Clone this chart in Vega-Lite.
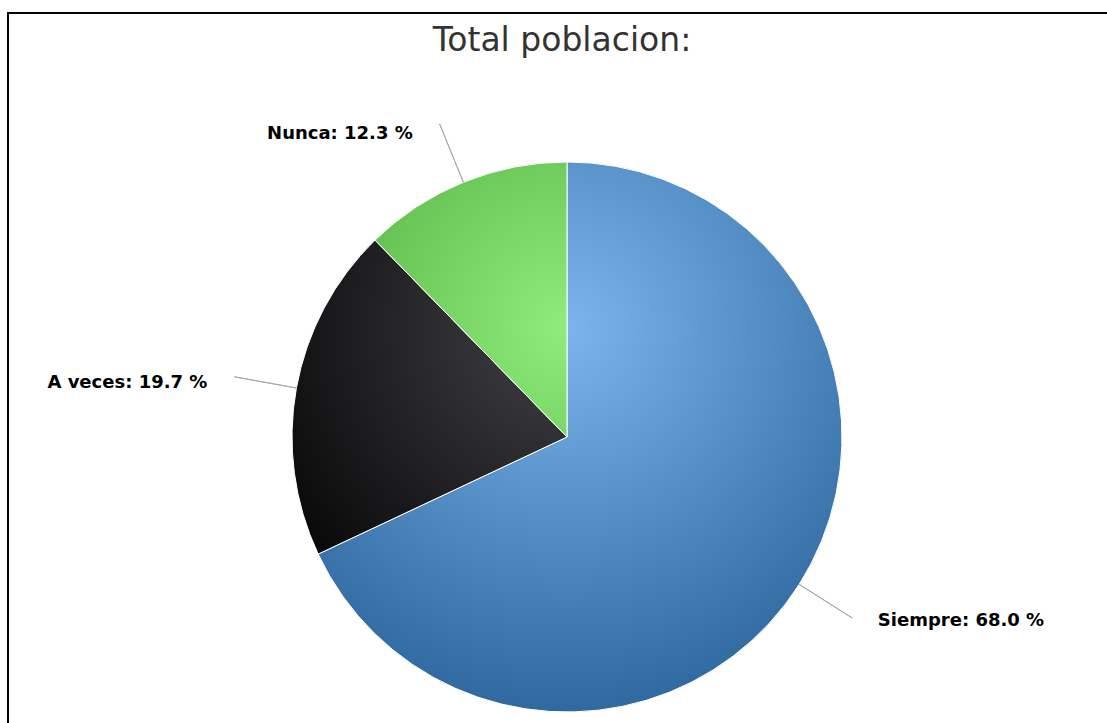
{
  "$schema": "https://vega.github.io/schema/vega-lite/v6.json",
  "width": 1118,
  "height": 848,
  "autosize": {"type": "none"},
  "padding": {"left": 8, "top": 13, "right": -19, "bottom": -138},
  "background": "white",
  "view": {"stroke": "black", "strokeWidth": 2, "fill": "white"},
  "config": {"view": {"stroke": "black", "strokeWidth": 2}},
  "title": {
    "text": "Total poblacion:",
    "font": "DejaVu Sans",
    "fontSize": 33,
    "fontWeight": "normal",
    "color": "#333333",
    "anchor": "middle",
    "frame": "group",
    "offset": -71,
    "baseline": "alphabetic",
    "dx": -5
  },
  "data": {
    "values": [
      {"respuesta": "Siempre", "porcentaje": 68.0},
      {"respuesta": "A veces", "porcentaje": 19.7},
      {"respuesta": "Nunca", "porcentaje": 12.3}
    ]
  },
  "transform": [
    {"stack": "porcentaje", "groupby": [], "sort": [{"field": "porcentaje", "order": "descending"}], "as": ["s0", "s1"]}
  ],
  "layer": [
    {
      "transform": [{"filter": "datum.respuesta === 'Siempre'"}],
      "mark": {
        "type": "arc", "outerRadius": 275, "stroke": "white", "strokeWidth": 1,
        "color": {"gradient": "radial", "x1": 0.476, "y1": 0.3, "r1": 0, "x2": 0.476, "y2": 0.3, "r2": 0.7,
          "stops": [{"offset": 0, "color": "#7cb5ec"}, {"offset": 1, "color": "#3069a0"}]}
      },
      "encoding": {
        "theta": {"field": "s0", "type": "quantitative", "scale": {"domain": [0, 100]}},
        "theta2": {"field": "s1"}
      }
    },
    {
      "transform": [{"filter": "datum.respuesta === 'A veces'"}],
      "mark": {
        "type": "arc", "outerRadius": 275, "stroke": "white", "strokeWidth": 1,
        "color": {"gradient": "radial", "x1": 0.938, "y1": 0.277, "r1": 0, "x2": 0.938, "y2": 0.277, "r2": 1.226,
          "stops": [{"offset": 0, "color": "#434348"}, {"offset": 1, "color": "#000000"}]}
      },
      "encoding": {
        "theta": {"field": "s0", "type": "quantitative", "scale": {"domain": [0, 100]}},
        "theta2": {"field": "s1"}
      }
    },
    {
      "transform": [{"filter": "datum.respuesta === 'Nunca'"}],
      "mark": {
        "type": "arc", "outerRadius": 275, "stroke": "white", "strokeWidth": 1,
        "color": {"gradient": "radial", "x1": 0.849, "y1": 0.6, "r1": 0, "x2": 0.849, "y2": 0.6, "r2": 1.4,
          "stops": [{"offset": 0, "color": "#90ed7d"}, {"offset": 1, "color": "#44a131"}]}
      },
      "encoding": {
        "theta": {"field": "s0", "type": "quantitative", "scale": {"domain": [0, 100]}},
        "theta2": {"field": "s1"}
      }
    },
    {
      "transform": [
        {"fold": ["s0", "s1"], "as": ["extremo", "angulo"]},
        {"aggregate": [{"op": "mean", "field": "angulo", "as": "medio"}], "groupby": ["respuesta", "porcentaje"]}
      ],
      "layer": [
        {
          "mark": {"type": "arc", "innerRadius": 275, "outerRadius": 338, "filled": false, "stroke": "#a8a8a8", "strokeWidth": 1},
          "encoding": {
            "theta": {"field": "medio", "type": "quantitative", "scale": {"domain": [0, 100]}},
            "theta2": {"field": "medio"}
          }
        },
        {
          "transform": [{"filter": "datum.respuesta === 'Siempre'"}],
          "mark": {"type": "text", "radius": 335, "align": "left", "baseline": "middle", "dx": 28, "dy": 4,
            "font": "DejaVu Sans", "fontSize": 18, "fontWeight": "bold", "color": "#000000",
            "text": {"expr": "datum.respuesta + ': ' + format(datum.porcentaje, '.1f') + ' %'"}},
          "encoding": {"theta": {"field": "medio", "type": "quantitative", "scale": {"domain": [0, 100]}}}
        },
        {
          "transform": [{"filter": "datum.respuesta === 'A veces'"}],
          "mark": {"type": "text", "radius": 335, "align": "right", "baseline": "middle", "dx": -30, "dy": 6,
            "font": "DejaVu Sans", "fontSize": 18, "fontWeight": "bold", "color": "#000000",
            "text": {"expr": "datum.respuesta + ': ' + format(datum.porcentaje, '.1f') + ' %'"}},
          "encoding": {"theta": {"field": "medio", "type": "quantitative", "scale": {"domain": [0, 100]}}}
        },
        {
          "transform": [{"filter": "datum.respuesta === 'Nunca'"}],
          "mark": {"type": "text", "radius": 335, "align": "right", "baseline": "middle", "dx": -28, "dy": 7,
            "font": "DejaVu Sans", "fontSize": 18, "fontWeight": "bold", "color": "#000000",
            "text": {"expr": "datum.respuesta + ': ' + format(datum.porcentaje, '.1f') + ' %'"}},
          "encoding": {"theta": {"field": "medio", "type": "quantitative", "scale": {"domain": [0, 100]}}}
        }
      ]
    }
  ]
}
